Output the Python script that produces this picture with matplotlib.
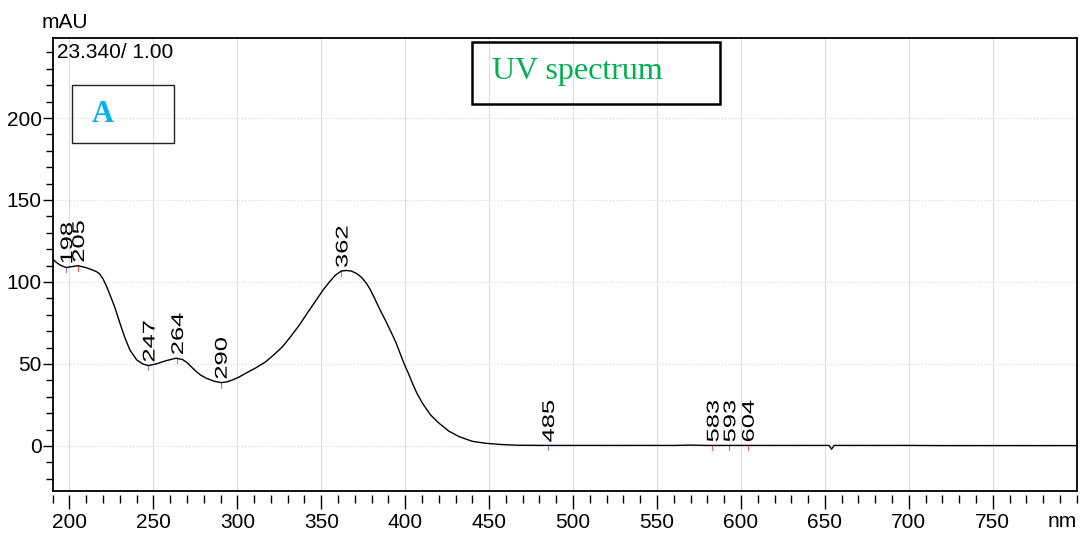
import matplotlib
matplotlib.use("Agg")
import matplotlib.pyplot as plt
from matplotlib.ticker import MultipleLocator
from matplotlib.textpath import TextPath
from matplotlib.patches import PathPatch
from matplotlib.font_manager import FontProperties
from matplotlib.transforms import Affine2D

# wavelength (nm) and absorbance (mAU)
wl = [190, 191, 193, 195, 198, 201, 205, 210, 214, 216,
      218, 220, 222, 224, 227, 230, 233, 236, 240, 243.6,
      247, 251.6, 257.6, 263.5, 267.5, 270.4, 273, 275.4, 278, 281.4,
      286, 290.3, 293.5, 297, 301, 305, 311, 317, 322, 327,
      332, 337, 342, 347, 351, 355, 358.5, 362, 365, 368,
      371, 374, 377, 379.5, 381.5, 385, 388.5, 391.5, 394.5, 397,
      399.4, 402, 404.3, 407, 410.3, 415, 420.2, 426, 432, 440,
      448, 458, 468, 485, 500, 520, 540, 560, 570, 580,
      590, 600, 620, 640, 652.5, 654, 655.5, 660, 680, 700,
      720, 740, 760, 780, 800]
mau = [114.4, 113.0, 111.3, 110.0, 108.8, 109.3, 109.9, 108.7, 107.2, 106.3,
       104.9, 101.8, 97.5, 92.5, 84.5, 75.0, 66.0, 58.5, 52.5, 50.0,
       49.0, 50.0, 52.0, 53.5, 52.6, 50.5, 47.8, 45.5, 43.3, 41.3,
       39.5, 38.6, 39.0, 40.2, 42.0, 44.3, 47.6, 51.4, 55.8, 60.6,
       67.0, 73.8, 81.5, 89.0, 95.0, 100.2, 104.2, 106.7, 107.0, 106.6,
       105.2, 102.8, 99.0, 94.8, 90.5, 83.0, 76.0, 69.6, 63.0, 56.3,
       50.0, 44.0, 38.2, 32.0, 26.0, 19.0, 13.8, 9.0, 5.7, 2.8,
       1.6, 0.8, 0.4, 0.3, 0.3, 0.3, 0.3, 0.3, 0.5, 0.3,
       0.3, 0.3, 0.3, 0.3, 0.3, -2.0, 0.3, 0.3, 0.3, 0.3,
       0.2, 0.2, 0.2, 0.2, 0.2]

# peak / valley labels: wavelength, absorbance, marker colour
peak_wl = [198, 205, 247, 264, 290, 362, 485, 583, 593, 604]
peak_mau = [108.8, 109.9, 49.0, 53.5, 38.6, 106.7, 0.3, 0.3, 0.3, 0.3]
peak_col = ['#8080ff', '#ff6060', '#8080ff', '#ff6060', '#8080ff', '#ff6060',
            '#8080ff', '#ff6060', '#8080ff', '#ff6060']

sans = ['Liberation Sans', 'DejaVu Sans']

fig = plt.figure(figsize=(10.8, 5.42), dpi=100)
ax = fig.add_axes([0.0488, 0.0947, 0.9481, 0.8346])

ax.plot(wl, mau, color='black', lw=1.0, zorder=3)

ax.set_xlim(190, 800)
ax.set_ylim(-27.3, 248.6)

# peak labels: wide vertical digits, drawn as text paths
fp = FontProperties(family='Liberation Sans')
for x, y, c in zip(peak_wl, peak_mau, peak_col):
    ax.plot([x, x], [y, y - 3], color=c, lw=0.8, zorder=2)
    px, py = ax.transData.transform((x, y))
    tp = TextPath((0, 0), str(x), size=17, prop=fp)
    tr = (Affine2D().translate(0, -6.1).scale(1.5, 1.0).rotate_deg(90)
          .translate(px, py + 3))
    ax.add_patch(PathPatch(tp, transform=tr, fc='black', ec='none', lw=0,
                           clip_on=False, zorder=4))

ax.xaxis.set_minor_locator(MultipleLocator(10))
ax.yaxis.set_major_locator(MultipleLocator(50))
ax.yaxis.set_minor_locator(MultipleLocator(10))
ax.set_xticks(range(200, 751, 50))

ax.grid(True, axis='x', which='major', color='#dddddd', lw=0.8)
ax.grid(True, axis='y', which='major', color='#d8d8d8', lw=0.8, ls=':')
ax.set_axisbelow(True)

# ticks sit a little below the frame
ax.spines['bottom'].set_position(('outward', 3))
ax.spines['bottom'].set_visible(False)
ax.plot([0, 1], [0, 0], transform=ax.transAxes, color='black', lw=1.3,
        clip_on=False, zorder=5)
for s in ['top', 'left', 'right']:
    ax.spines[s].set_linewidth(1.3)

ax.tick_params(axis='x', which='major', length=10, width=1.0, pad=3)
ax.tick_params(axis='x', which='minor', length=6, width=1.0)
ax.tick_params(axis='y', which='major', length=7, width=1.0, pad=1)
ax.tick_params(axis='y', which='minor', length=5, width=1.0)
for lab in ax.get_xticklabels() + ax.get_yticklabels():
    lab.set_family(sans)
    lab.set_fontsize(15)

ax.text(1.0, -0.069, 'nm', transform=ax.transAxes, ha='right', va='center',
        fontsize=15, family=sans)
fig.text(42 / 1080, (542 - 22) / 542, 'mAU', ha='left', va='center',
         fontsize=15, family=sans)
fig.text(57 / 1080, (542 - 53) / 542, '23.340/ 1.00', ha='left', va='center',
         fontsize=15, family=sans)

# "A" box
fig.patches.append(plt.Rectangle((72.3 / 1080, (542 - 143.3) / 542), 101.7 / 1080,
                                 58.3 / 542, transform=fig.transFigure,
                                 fill=False, ec='#222222', lw=1.0))
fig.text(92 / 1080, (542 - 115) / 542, 'A', color='#00b0f0', fontsize=22,
         fontweight='bold', family='Liberation Serif', ha='left', va='center')

# "UV spectrum" box
fig.patches.append(plt.Rectangle((471.7 / 1080, (542 - 104) / 542), 248.3 / 1080,
                                 62.3 / 542, transform=fig.transFigure,
                                 fill=False, ec='black', lw=1.8))
fig.text(491.7 / 1080, (542 - 72) / 542, 'UV spectrum', color='#00b050',
         fontsize=23, family='Liberation Serif', ha='left', va='center')

fig.savefig('out.png', dpi=100)
